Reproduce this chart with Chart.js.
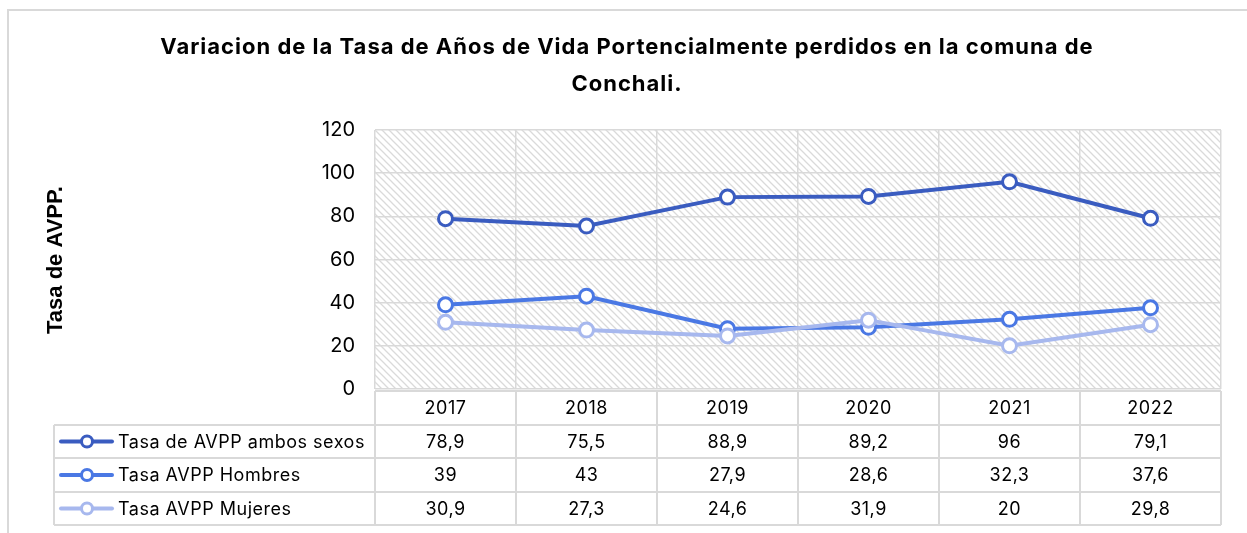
<!DOCTYPE html>
<html>
<head>
<meta charset="utf-8">
<script src="https://cdn.jsdelivr.net/npm/chart.js@4"></script>
<style>
  html, body { margin: 0; padding: 0; background: #fff; }
  #wrap { width: 1247px; height: 533px; }
</style>
</head>
<body>
<div id="wrap"><canvas id="chart" width="1247" height="533"></canvas></div>
<script>
const years = ['2017', '2018', '2019', '2020', '2021', '2022'];
const ambosSexos = [78.9, 75.5, 88.9, 89.2, 96, 79.1];
const hombres = [39, 43, 27.9, 28.6, 32.3, 37.6];
const mujeres = [30.9, 27.3, 24.6, 31.9, 20, 29.8];
const seriesNames = ['Tasa de AVPP ambos sexos', 'Tasa AVPP Hombres', 'Tasa AVPP Mujeres'];
const seriesColors = ['#3a5cc0', '#4a78e4', '#a7b8ee'];
const titleLines = ['Variacion de la Tasa de Años de Vida Portencialmente perdidos en la comuna de', 'Conchali.'];
const yTitle = 'Tasa de AVPP.';

const gridColor = '#d9d9d9';

// diagonal hatch for plot background
function makeHatch() {
    const c = document.createElement('canvas');
    c.width = 7; c.height = 7;
    const g = c.getContext('2d');
    g.strokeStyle = '#dadada';
    g.lineWidth = 1.3;
    g.beginPath();
    g.moveTo(-1, -1); g.lineTo(8, 8);
    g.moveTo(-1, 6); g.lineTo(1, 8);
    g.moveTo(6, -1); g.lineTo(8, 1);
    g.stroke();
    return g.createPattern(c, 'repeat');
}

function fmt(v) {
    return String(v).replace('.', ',');
}

const decorPlugin = {
    id: 'decor',
    beforeDraw(chart) {
        const ctx = chart.ctx;
        const a = chart.chartArea;
        ctx.save();
        ctx.fillStyle = '#fff';
        ctx.fillRect(0, 0, chart.width, chart.height);
        // outer frame
        ctx.strokeStyle = gridColor;
        ctx.lineWidth = 2;
        ctx.beginPath();
        ctx.moveTo(8, chart.height + 2);
        ctx.lineTo(8, 10);
        ctx.lineTo(chart.width + 2, 10);
        ctx.stroke();
        // hatch
        ctx.fillStyle = makeHatch();
        ctx.fillRect(a.left, a.top, a.right - a.left, a.bottom - a.top);
        ctx.restore();
    },
    afterDraw(chart) {
        const ctx = chart.ctx;
        const a = chart.chartArea;
        const x = chart.scales.x;
        ctx.save();

        // title
        ctx.fillStyle = '#000';
        ctx.font = 'bold 22px Inter, "Open Sans", sans-serif';
        ctx.letterSpacing = '1px';
        ctx.textAlign = 'center';
        ctx.textBaseline = 'middle';
        titleLines.forEach((t, i) => ctx.fillText(t, 627, 47 + i * 37));

        // y axis title
        ctx.save();
        ctx.translate(56, 260);
        ctx.rotate(-Math.PI / 2);
        ctx.letterSpacing = '0px';
        ctx.font = 'bold 22px "Liberation Sans", Arial, sans-serif';
        ctx.fillText(yTitle, 0, 0);
        ctx.restore();

        // data table
        const half = (x.getPixelForValue(1) - x.getPixelForValue(0)) / 2;
        const rowTops = [391, 425, 458, 492, 525];
        const tableLeft = 54;
        ctx.strokeStyle = gridColor;
        ctx.lineWidth = 2;
        ctx.beginPath();
        ctx.moveTo(a.left, rowTops[0]); ctx.lineTo(a.right, rowTops[0]);
        for (let r = 1; r < rowTops.length; r++) {
            ctx.moveTo(tableLeft, rowTops[r]); ctx.lineTo(a.right, rowTops[r]);
        }
        ctx.moveTo(tableLeft, rowTops[1]); ctx.lineTo(tableLeft, rowTops[4]);
        for (let i = 0; i <= years.length; i++) {
            const px = i < years.length ? x.getPixelForValue(i) - half : x.getPixelForValue(years.length - 1) + half;
            ctx.moveTo(px, rowTops[0]); ctx.lineTo(px, rowTops[4]);
        }
        ctx.stroke();

        ctx.font = '18px Inter, "Open Sans", sans-serif';
        ctx.letterSpacing = '0.5px';
        ctx.fillStyle = '#000';
        ctx.textAlign = 'center';
        const seriesData = [ambosSexos, hombres, mujeres];
        years.forEach((yr, i) => {
            const cx = x.getPixelForValue(i);
            ctx.fillText(yr, cx, (rowTops[0] + rowTops[1]) / 2 + 1);
            seriesData.forEach((arr, r) => {
                ctx.fillText(fmt(arr[i]), cx, (rowTops[r + 1] + rowTops[r + 2]) / 2 + 1);
            });
        });

        // legend keys
        seriesNames.forEach((name, r) => {
            const cy = (rowTops[r + 1] + rowTops[r + 2]) / 2;
            ctx.strokeStyle = seriesColors[r];
            ctx.lineWidth = 4;
            ctx.lineCap = 'round';
            ctx.beginPath();
            ctx.moveTo(61, cy); ctx.lineTo(112, cy);
            ctx.stroke();
            ctx.beginPath();
            ctx.arc(87, cy, 5.5, 0, Math.PI * 2);
            ctx.fillStyle = '#fff';
            ctx.fill();
            ctx.lineWidth = 3;
            ctx.stroke();
            ctx.fillStyle = '#000';
            ctx.textAlign = 'left';
            ctx.fillText(name, 118, cy + 1);
        });
        ctx.restore();
    }
};

const context = document.getElementById('chart').getContext('2d');

const chart = new Chart(context, {
    type: 'line',
    data: {
        labels: years,
        datasets: [ambosSexos, hombres, mujeres].map((d, i) => ({
            label: seriesNames[i],
            data: d,
            borderColor: seriesColors[i],
            backgroundColor: '#fff',
            borderWidth: 4,
            pointRadius: 7,
            pointBorderWidth: 3,
            pointBackgroundColor: '#fff',
            pointBorderColor: seriesColors[i],
            fill: false,
            tension: 0
        })).reverse()
    },
    options: {
        responsive: false,
        animation: false,
        events: [],
        layout: {
            padding: { left: 275, right: 26, top: 130, bottom: 144 }
        },
        plugins: {
            legend: { display: false },
            title: { display: false },
            tooltip: { enabled: false }
        },
        scales: {
            x: {
                offset: true,
                grid: { color: gridColor, lineWidth: 1.5, offset: true, drawTicks: false },
                border: { display: false },
                ticks: { display: false },
                afterFit: s => { s.height = 0; }
            },
            y: {
                min: 0,
                max: 120,
                ticks: {
                    stepSize: 20,
                    padding: 20,
                    color: '#000',
                    font: { size: 20, family: 'Inter, "Open Sans", sans-serif' }
                },
                grid: { color: gridColor, lineWidth: 1.5, drawTicks: false },
                border: { display: false },
                afterFit: s => { s.width = 100; }
            }
        }
    },
    plugins: [decorPlugin]
});
</script>
</body>
</html>
